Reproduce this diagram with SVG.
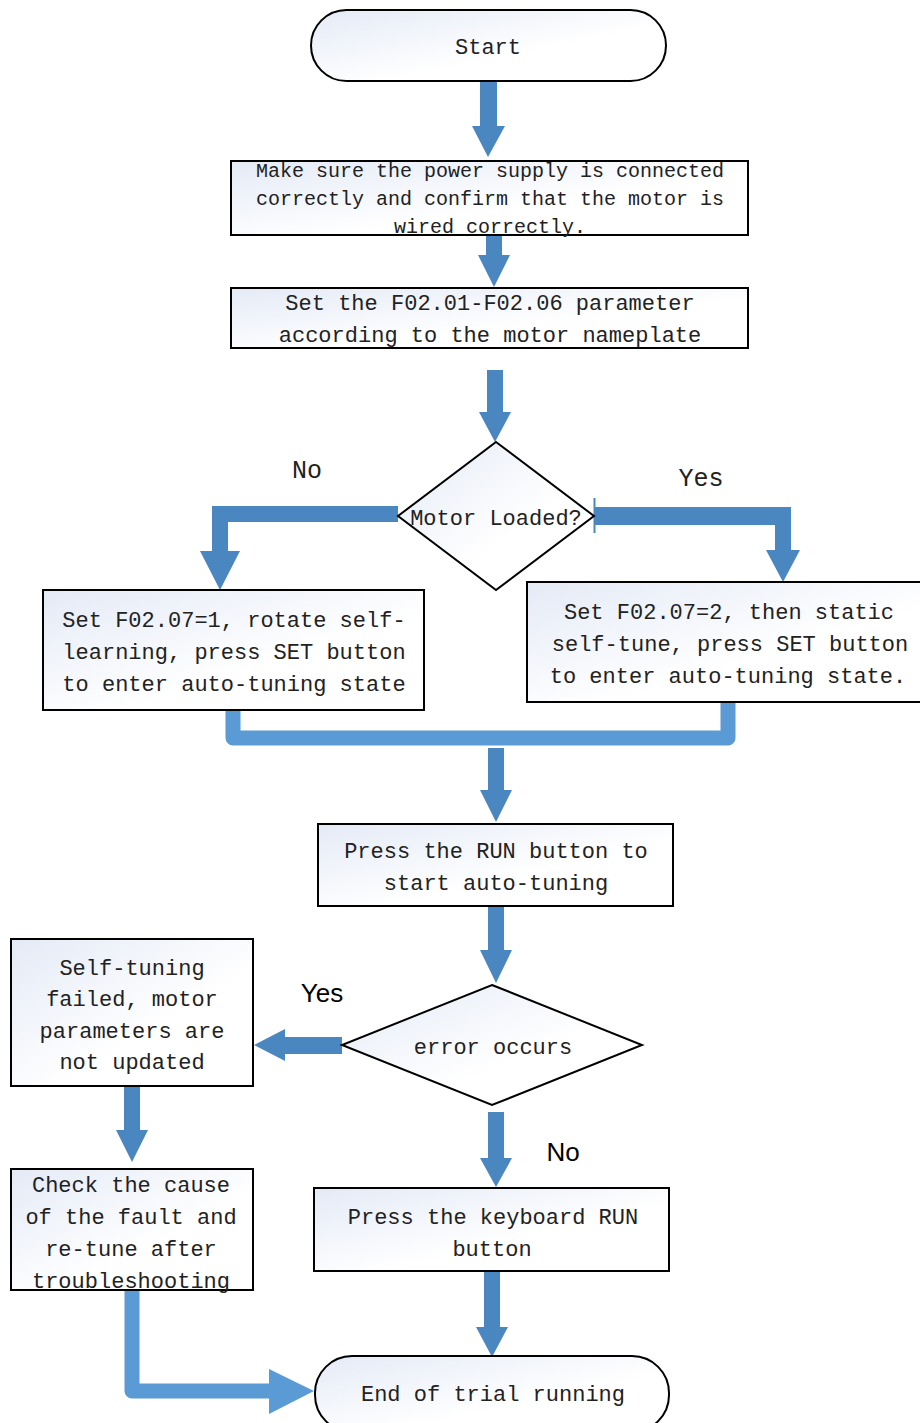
<svg xmlns="http://www.w3.org/2000/svg" width="920" height="1423" viewBox="0 0 920 1423">
<defs>
<linearGradient id="g" x1="0" y1="0" x2="1" y2="1">
<stop offset="0" stop-color="#E4EAF6"/>
<stop offset="0.6" stop-color="#FFFFFF"/>
<stop offset="1" stop-color="#FFFFFF"/>
</linearGradient>
</defs>
<style>
.box{fill:url(#g);stroke:#000;stroke-width:2}
.t{font-family:"Liberation Mono","DejaVu Sans Mono",monospace;font-size:22px;fill:#222;text-anchor:middle}
.t20{font-size:20px}
.lbl{font-family:"Liberation Mono","DejaVu Sans Mono",monospace;font-size:25px;fill:#222;text-anchor:middle}
.lbs{font-family:"Liberation Sans",Arial,sans-serif;font-size:26px;fill:#000;text-anchor:middle}
.ar{fill:#4A86BF}
.lb{fill:none;stroke:#5B9BD5;stroke-width:15;stroke-linecap:round;stroke-linejoin:round}
.lbf{fill:#5B9BD5}
</style>
<rect width="920" height="1423" fill="#fff"/>

<g id="connectors">
<polygon class="ar" points="480,82 497,82 497,126 505,126 488,157 472,126 480,126"/>
<polygon class="ar" points="486,235 502,235 502,255 510,255 494,287 478,255 486,255"/>
<polygon class="ar" points="487,370 503,370 503,412 511,412 495,442 479,412 487,412"/>
<polygon class="ar" points="398,506 212,506 212,551 200,551 220,590 240,551 228,551 228,522 398,522"/>
<polygon class="ar" points="594,507 791,507 791,550 800,550 783,582 766,550 775,550 775,525 594,525"/>
<line x1="594.5" y1="498" x2="594.5" y2="533" stroke="#4A86BF" stroke-width="2"/>
<path class="lb" d="M233,710 V738 H728 V703"/>
<polygon class="ar" points="488,748 504,748 504,790 512,790 496,822 480,790 488,790"/>
<polygon class="ar" points="488,907 504,907 504,950 512,950 496,983 480,950 488,950"/>
<polygon class="ar" points="342,1037 285,1037 285,1029 254,1045 285,1061 285,1054 342,1054"/>
<polygon class="ar" points="124,1086 140,1086 140,1130 148,1130 132,1162 116,1130 124,1130"/>
<polygon class="ar" points="488,1112 504,1112 504,1158 512,1158 496,1187 480,1158 488,1158"/>
<polygon class="ar" points="484,1272 500,1272 500,1327 508,1327 492,1357 476,1327 484,1327"/>
<path class="lb" d="M132,1290 V1391 H272"/>
<polygon class="lbf" points="269,1369 314,1391 269,1414"/>
</g>

<g id="start">
<rect class="box" x="311" y="10" width="355" height="71" rx="35.5"/>
<text class="t" x="488" y="54">Start</text>
</g>

<g id="check-power">
<rect class="box" x="231" y="161" width="517" height="74"/>
<text class="t t20" x="490" y="177">Make sure the power supply is connected</text>
<text class="t t20" x="490" y="205">correctly and confirm that the motor is</text>
<text class="t t20" x="490" y="233">wired correctly.</text>
</g>

<g id="set-params">
<rect class="box" x="231" y="288" width="517" height="60"/>
<text class="t" x="490" y="310">Set the F02.01-F02.06 parameter</text>
<text class="t" x="490" y="342">according to the motor nameplate</text>
</g>

<g id="motor-loaded">
<polygon class="box" points="496,442 594,516 496,590 398,516"/>
<text class="t" x="496" y="525">Motor Loaded?</text>
</g>

<g id="label-no-1"><text class="lbl" x="307" y="478">No</text></g>
<g id="label-yes-1"><text class="lbl" x="701" y="486">Yes</text></g>

<g id="rotate-tune">
<rect class="box" x="43" y="590" width="381" height="120"/>
<text class="t" x="234" y="627">Set F02.07=1, rotate self-</text>
<text class="t" x="234" y="659">learning, press SET button</text>
<text class="t" x="234" y="691">to enter auto-tuning state</text>
</g>

<g id="static-tune">
<rect class="box" x="527" y="582" width="400" height="120"/>
<text class="t" x="729" y="619">Set F02.07=2, then static</text>
<text class="t" x="730" y="651">self-tune, press SET button</text>
<text class="t" x="728" y="683">to enter auto-tuning state.</text>
</g>

<g id="press-run">
<rect class="box" x="318" y="824" width="355" height="82"/>
<text class="t" x="496" y="858">Press the RUN button to</text>
<text class="t" x="496" y="890">start auto-tuning</text>
</g>

<g id="error-occurs">
<polygon class="box" points="492,985 642,1045 492,1105 342,1045"/>
<text class="t" x="493" y="1054">error occurs</text>
</g>

<g id="label-yes-2"><text class="lbs" x="322" y="1002">Yes</text></g>
<g id="label-no-2"><text class="lbs" x="563" y="1161">No</text></g>

<g id="tune-failed">
<rect class="box" x="11" y="939" width="242" height="147"/>
<text class="t" x="132" y="975">Self-tuning</text>
<text class="t" x="132" y="1006">failed, motor</text>
<text class="t" x="132" y="1038">parameters are</text>
<text class="t" x="132" y="1069">not updated</text>
</g>

<g id="check-fault">
<rect class="box" x="11" y="1169" width="242" height="121"/>
<text class="t" x="131" y="1192">Check the cause</text>
<text class="t" x="131" y="1224">of the fault and</text>
<text class="t" x="131" y="1256">re-tune after</text>
<text class="t" x="131" y="1288">troubleshooting</text>
</g>

<g id="keyboard-run">
<rect class="box" x="314" y="1188" width="355" height="83"/>
<text class="t" x="493" y="1224">Press the keyboard RUN</text>
<text class="t" x="492" y="1256">button</text>
</g>

<g id="end">
<rect class="box" x="315" y="1356" width="354" height="76" rx="37"/>
<text class="t" x="493" y="1401">End of trial running</text>
</g>
</svg>
